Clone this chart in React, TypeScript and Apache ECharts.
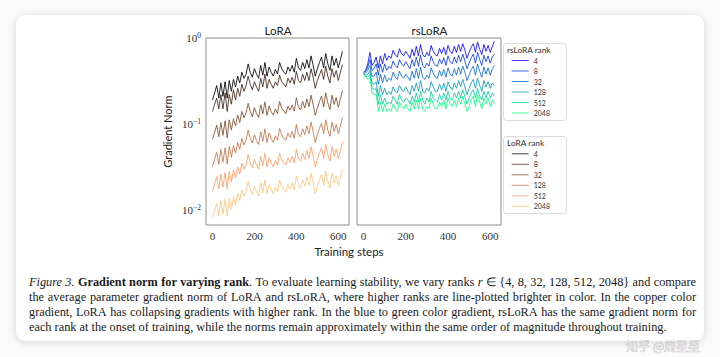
import React, { useEffect, useRef } from "react";
import * as echarts from "echarts";

// ---------------- data ----------------
const steps = [0, 10, 20, 30, 40, 50, 60, 70, 80, 90, 100, 110, 120, 130, 140, 150, 160, 170, 180, 190, 200, 210, 220, 230, 240, 250, 260, 270, 280, 290, 300, 310, 320, 330, 340, 350, 360, 370, 380, 390, 400, 410, 420, 430, 440, 450, 460, 470, 480, 490, 500, 510, 520, 530, 540, 550, 560, 570, 580, 590, 600, 610, 620];

const ranks = ["4", "8", "32", "128", "512", "2048"];

const loraR4 = [0.19, 0.23, 0.28, 0.20, 0.30, 0.21, 0.31, 0.20, 0.32, 0.24, 0.33, 0.27, 0.36, 0.30, 0.40, 0.34, 0.38, 0.50, 0.40, 0.35, 0.44, 0.38, 0.34, 0.48, 0.37, 0.52, 0.36, 0.46, 0.40, 0.36, 0.43, 0.38, 0.52, 0.44, 0.40, 0.38, 0.46, 0.41, 0.48, 0.40, 0.58, 0.45, 0.42, 0.52, 0.44, 0.56, 0.45, 0.62, 0.48, 0.36, 0.44, 0.52, 0.60, 0.45, 0.66, 0.50, 0.42, 0.62, 0.48, 0.58, 0.45, 0.56, 0.70];
const loraR8 = [0.14, 0.17, 0.20, 0.15, 0.22, 0.15, 0.23, 0.14, 0.22, 0.17, 0.25, 0.19, 0.26, 0.21, 0.29, 0.24, 0.28, 0.36, 0.29, 0.25, 0.31, 0.27, 0.24, 0.34, 0.27, 0.38, 0.26, 0.33, 0.29, 0.26, 0.31, 0.28, 0.37, 0.31, 0.29, 0.27, 0.34, 0.30, 0.35, 0.29, 0.41, 0.32, 0.30, 0.38, 0.32, 0.40, 0.32, 0.44, 0.35, 0.26, 0.32, 0.37, 0.43, 0.33, 0.47, 0.36, 0.30, 0.44, 0.35, 0.42, 0.32, 0.40, 0.49];
const loraR32 = [0.067, 0.080, 0.097, 0.071, 0.104, 0.074, 0.109, 0.069, 0.112, 0.085, 0.115, 0.095, 0.127, 0.104, 0.140, 0.118, 0.134, 0.174, 0.141, 0.121, 0.155, 0.132, 0.119, 0.167, 0.131, 0.181, 0.126, 0.162, 0.139, 0.127, 0.150, 0.132, 0.183, 0.153, 0.141, 0.132, 0.161, 0.145, 0.167, 0.141, 0.202, 0.158, 0.146, 0.183, 0.153, 0.196, 0.159, 0.216, 0.168, 0.127, 0.153, 0.182, 0.211, 0.157, 0.230, 0.176, 0.147, 0.216, 0.169, 0.203, 0.157, 0.196, 0.245];
const loraR128 = [0.032, 0.039, 0.047, 0.034, 0.051, 0.036, 0.053, 0.034, 0.055, 0.041, 0.056, 0.046, 0.061, 0.051, 0.068, 0.057, 0.065, 0.085, 0.068, 0.060, 0.075, 0.064, 0.058, 0.081, 0.063, 0.088, 0.061, 0.079, 0.068, 0.061, 0.073, 0.065, 0.089, 0.075, 0.068, 0.065, 0.078, 0.070, 0.082, 0.068, 0.099, 0.076, 0.071, 0.088, 0.075, 0.095, 0.077, 0.105, 0.082, 0.061, 0.075, 0.089, 0.102, 0.077, 0.112, 0.085, 0.072, 0.105, 0.082, 0.099, 0.077, 0.095, 0.119];
const loraR512 = [0.0167, 0.0202, 0.0245, 0.0177, 0.0263, 0.0186, 0.0273, 0.0176, 0.0282, 0.0212, 0.0290, 0.0238, 0.0318, 0.0264, 0.0352, 0.0299, 0.0334, 0.0440, 0.0352, 0.0308, 0.0387, 0.0334, 0.0300, 0.0421, 0.0326, 0.0458, 0.0317, 0.0405, 0.0352, 0.0318, 0.0378, 0.0334, 0.0457, 0.0387, 0.0352, 0.0335, 0.0405, 0.0361, 0.0422, 0.0352, 0.0510, 0.0396, 0.0370, 0.0458, 0.0387, 0.0493, 0.0396, 0.0546, 0.0422, 0.0317, 0.0387, 0.0458, 0.0528, 0.0396, 0.0581, 0.0440, 0.0370, 0.0546, 0.0422, 0.0510, 0.0396, 0.0493, 0.0616];
const loraR2048 = [0.0082, 0.0099, 0.0120, 0.0086, 0.0129, 0.0090, 0.0133, 0.0086, 0.0138, 0.0103, 0.0142, 0.0116, 0.0155, 0.0129, 0.0172, 0.0146, 0.0163, 0.0215, 0.0172, 0.0151, 0.0189, 0.0163, 0.0146, 0.0206, 0.0159, 0.0224, 0.0155, 0.0198, 0.0172, 0.0155, 0.0185, 0.0163, 0.0224, 0.0189, 0.0172, 0.0163, 0.0198, 0.0176, 0.0206, 0.0172, 0.0249, 0.0194, 0.0181, 0.0224, 0.0189, 0.0241, 0.0194, 0.0267, 0.0206, 0.0155, 0.0189, 0.0224, 0.0258, 0.0194, 0.0284, 0.0215, 0.0181, 0.0267, 0.0206, 0.0249, 0.0194, 0.0241, 0.0301];

const rsR4 = [0.40, 0.42, 0.50, 0.68, 0.48, 0.52, 0.60, 0.45, 0.62, 0.50, 0.66, 0.55, 0.62, 0.58, 0.72, 0.64, 0.60, 0.75, 0.66, 0.62, 0.70, 0.64, 0.58, 0.74, 0.62, 0.80, 0.62, 0.84, 0.64, 0.60, 0.68, 0.62, 0.82, 0.70, 0.64, 0.62, 0.76, 0.66, 0.78, 0.64, 0.82, 0.70, 0.66, 0.80, 0.68, 0.84, 0.70, 0.86, 0.72, 0.58, 0.68, 0.78, 0.86, 0.68, 0.90, 0.74, 0.64, 0.84, 0.70, 0.82, 0.68, 0.80, 0.92];
const rsR8 = [0.40, 0.41, 0.46, 0.56, 0.42, 0.44, 0.50, 0.37, 0.50, 0.40, 0.50, 0.42, 0.47, 0.44, 0.54, 0.48, 0.45, 0.56, 0.50, 0.47, 0.53, 0.48, 0.44, 0.56, 0.47, 0.60, 0.47, 0.63, 0.48, 0.45, 0.51, 0.47, 0.62, 0.53, 0.48, 0.47, 0.57, 0.50, 0.59, 0.48, 0.62, 0.53, 0.50, 0.60, 0.51, 0.63, 0.53, 0.65, 0.54, 0.44, 0.51, 0.59, 0.65, 0.51, 0.68, 0.56, 0.48, 0.63, 0.53, 0.62, 0.51, 0.60, 0.65];
const rsR32 = [0.39, 0.39, 0.42, 0.48, 0.36, 0.36, 0.40, 0.29, 0.38, 0.30, 0.37, 0.31, 0.34, 0.32, 0.40, 0.35, 0.33, 0.41, 0.36, 0.34, 0.38, 0.35, 0.32, 0.41, 0.34, 0.44, 0.34, 0.46, 0.35, 0.33, 0.37, 0.34, 0.45, 0.39, 0.35, 0.34, 0.42, 0.36, 0.43, 0.35, 0.45, 0.38, 0.36, 0.44, 0.37, 0.46, 0.38, 0.47, 0.40, 0.32, 0.37, 0.43, 0.47, 0.37, 0.50, 0.41, 0.35, 0.46, 0.38, 0.45, 0.37, 0.44, 0.48];
const rsR128 = [0.39, 0.37, 0.38, 0.42, 0.30, 0.29, 0.31, 0.21, 0.28, 0.22, 0.26, 0.22, 0.24, 0.22, 0.27, 0.24, 0.23, 0.28, 0.25, 0.24, 0.27, 0.24, 0.22, 0.28, 0.24, 0.30, 0.24, 0.32, 0.24, 0.23, 0.26, 0.24, 0.31, 0.27, 0.24, 0.24, 0.29, 0.25, 0.30, 0.24, 0.31, 0.27, 0.25, 0.30, 0.26, 0.32, 0.27, 0.33, 0.27, 0.22, 0.26, 0.30, 0.33, 0.26, 0.34, 0.28, 0.24, 0.32, 0.27, 0.31, 0.26, 0.30, 0.28];
const rsR512 = [0.38, 0.36, 0.35, 0.38, 0.26, 0.25, 0.26, 0.17, 0.22, 0.17, 0.20, 0.17, 0.18, 0.17, 0.21, 0.19, 0.17, 0.22, 0.19, 0.18, 0.20, 0.19, 0.17, 0.21, 0.18, 0.23, 0.18, 0.24, 0.19, 0.17, 0.20, 0.18, 0.24, 0.20, 0.19, 0.18, 0.22, 0.19, 0.23, 0.19, 0.24, 0.20, 0.19, 0.23, 0.20, 0.24, 0.20, 0.25, 0.21, 0.17, 0.20, 0.23, 0.25, 0.20, 0.26, 0.21, 0.19, 0.24, 0.20, 0.24, 0.20, 0.23, 0.21];
const rsR2048 = [0.38, 0.35, 0.33, 0.35, 0.23, 0.22, 0.22, 0.14, 0.18, 0.14, 0.17, 0.14, 0.15, 0.14, 0.17, 0.15, 0.14, 0.18, 0.16, 0.15, 0.17, 0.15, 0.14, 0.18, 0.15, 0.19, 0.15, 0.20, 0.15, 0.14, 0.16, 0.15, 0.20, 0.17, 0.15, 0.15, 0.18, 0.16, 0.19, 0.15, 0.20, 0.17, 0.16, 0.19, 0.16, 0.20, 0.17, 0.21, 0.17, 0.14, 0.16, 0.19, 0.21, 0.16, 0.22, 0.18, 0.15, 0.20, 0.17, 0.20, 0.16, 0.19, 0.17];

const loraSeries = [loraR4, loraR8, loraR32, loraR128, loraR512, loraR2048];
const rsSeries = [rsR4, rsR8, rsR32, rsR128, rsR512, rsR2048];

const copperColors = ["#000000", "#402819", "#7f5033", "#bf784c", "#ffa066", "#ffc77f"];
const winterColors = ["#0000ff", "#0033e6", "#0066cc", "#0099b3", "#00cc99", "#00ff80"];

const xTicks = [0, 200, 400, 600];

type Seg = [string, string];
const captionLines: Seg[][] = [
  [["i", "Figure 3."], ["n", " "], ["b", "Gradient norm for varying rank"], ["n", ". To evaluate learning stability, we vary ranks "], ["i", "r"], ["n", " ∈ {4, 8, 32, 128, 512, 2048} and compare"]],
  [["n", "the average parameter gradient norm of LoRA and rsLoRA, where higher ranks are line-plotted brighter in color. In the copper color"]],
  [["n", "gradient, LoRA has collapsing gradients with higher rank. In the blue to green color gradient, rsLoRA has the same gradient norm for"]],
  [["n", "each rank at the onset of training, while the norms remain approximately within the same order of magnitude throughout training."]],
];

const SERIF = '"Liberation Serif", "Times New Roman", serif';
const SANS = 'Lato, "Open Sans", sans-serif';

function buildCaption(): any[] {
  const size = 12.3;
  const left = 29;
  const right = 696;
  const tops = [282, 297, 312, 327];
  const fontFor = (st: string) =>
    `${st === "i" ? "italic" : "normal"} ${st === "b" ? "bold" : "normal"} ${size}px ${SERIF}`;
  const canvas = document.createElement("canvas");
  const ctx = canvas.getContext("2d")!;
  const measure = (st: string, t: string) => {
    ctx.font = fontFor(st);
    return ctx.measureText(t).width;
  };
  const out: any[] = [];
  captionLines.forEach((line, li) => {
    const words: Seg[][] = [];
    let cur: Seg[] = [];
    for (const [st, txt] of line) {
      const parts = txt.split(" ");
      parts.forEach((p, k) => {
        if (k > 0) {
          if (cur.length) words.push(cur);
          cur = [];
        }
        if (p) cur.push([st, p]);
      });
    }
    if (cur.length) words.push(cur);
    const widths = words.map((w) => w.reduce((s, [st, t]) => s + measure(st, t), 0));
    const total = widths.reduce((a, b) => a + b, 0);
    const justify = li < captionLines.length - 1;
    const gap = justify ? (right - left - total) / (words.length - 1) : measure("n", " ");
    let x = left;
    words.forEach((w, wi) => {
      let px = x;
      w.forEach(([st, t]) => {
        out.push({
          type: "text",
          x: px,
          y: tops[li],
          z: 5,
          style: {
            text: t,
            fill: "#1a1a1a",
            fontSize: size,
            fontFamily: SERIF,
            fontStyle: st === "i" ? "italic" : "normal",
            fontWeight: st === "b" ? "bold" : "normal",
            verticalAlign: "middle",
            align: "left",
          },
        });
        px += measure(st, t);
      });
      x += widths[wi] + gap;
    });
  });
  return out;
}

export default function App() {
  const ref = useRef<HTMLDivElement>(null);
  useEffect(() => {
    if (!ref.current) return;
    const chart = echarts.init(ref.current, undefined, { renderer: "svg" });

    const loraNames = ranks.map((r) => "LoRA " + r);
    const rsNames = ranks.map((r) => "rsLoRA " + r);

    const series: any[] = [];
    rsSeries.forEach((vals, k) => {
      series.push({
        name: rsNames[k],
        type: "line",
        xAxisIndex: 1,
        yAxisIndex: 1,
        symbol: "none",
        color: winterColors[k],
        lineStyle: { width: 1, color: winterColors[k], opacity: 0.8 },
        data: steps.map((s, i) => [s, vals[i]]),
      });
    });
    loraSeries.forEach((vals, k) => {
      series.push({
        name: loraNames[k],
        type: "line",
        xAxisIndex: 0,
        yAxisIndex: 0,
        symbol: "none",
        color: copperColors[k],
        lineStyle: { width: 1, color: copperColors[k], opacity: 0.85 },
        data: steps.map((s, i) => [s, vals[i]]),
      });
    });

    const yFormatter = (v: number) => {
      const l = Math.log10(v);
      const e = Math.round(l);
      if (Math.abs(l - e) > 1e-6) return "";
      return `{b|10}{s|${e === 0 ? "0" : "−" + -e}}`;
    };

    const legendCommon = {
      orient: "vertical",
      itemWidth: 17,
      itemHeight: 10,
      itemGap: 0.5,
      padding: 0,
      selectedMode: false,
      icon: "path://M0,0 L17,0 L17,1 L0,1 Z",
      itemStyle: { opacity: 0.75 },
      formatter: (n: string) => n.split(" ")[1],
      textStyle: { fontFamily: SANS, fontSize: 7, color: "#333", lineHeight: 10 },
    };

    const option: any = {
      animation: false,
      backgroundColor: "transparent",
      grid: [
        { left: 206, top: 38, width: 143, height: 187, show: true, borderColor: "#8c8c8c", borderWidth: 1, backgroundColor: "rgba(0,0,0,0)", outerBoundsMode: "none" },
        { left: 357, top: 38, width: 144, height: 187, show: true, borderColor: "#8c8c8c", borderWidth: 1, backgroundColor: "rgba(0,0,0,0)", outerBoundsMode: "none" },
      ],
      xAxis: [0, 1].map((g) => ({
        type: "value",
        gridIndex: g,
        min: -31,
        max: 651,
        axisLine: { show: false },
        axisTick: { show: false },
        splitLine: { show: false },
        axisLabel: { customValues: xTicks, fontFamily: SERIF, fontSize: 11, color: "#333", margin: 5 },
      })),
      yAxis: [0, 1].map((g) => ({
        type: "log",
        logBase: 10,
        gridIndex: g,
        min: 0.0067,
        max: 1,
        axisLine: { show: false },
        axisTick: { show: false },
        splitLine: { show: false },
        name: g === 0 ? "Gradient Norm" : "",
        nameLocation: "middle",
        nameGap: 33,
        nameRotate: 90,
        nameTextStyle: { fontFamily: SANS, fontSize: 11, color: "#222" },
        axisLabel:
          g === 0
            ? {
                formatter: yFormatter,
                margin: 5,
                rich: {
                  b: { fontFamily: SERIF, fontSize: 11, color: "#333", lineHeight: 14 },
                  s: { fontFamily: SERIF, fontSize: 7.5, color: "#333", lineHeight: 8, verticalAlign: "top" },
                },
              }
            : { show: false },
      })),
      legend: [
        { ...legendCommon, data: rsNames, left: 511.7, top: 55.5 },
        { ...legendCommon, data: loraNames, left: 511.7, top: 148.8 },
      ],
      graphic: [
        { type: "rect", z: 0, shape: { x: 503.5, y: 43.5, width: 63, height: 77, r: 3 }, style: { fill: "#fff", stroke: "#dcdcdc", lineWidth: 1 } },
        { type: "rect", z: 0, shape: { x: 503.5, y: 136.5, width: 63, height: 77, r: 3 }, style: { fill: "#fff", stroke: "#dcdcdc", lineWidth: 1 } },
        { type: "text", z: 5, x: 507, y: 49.5, style: { text: "rsLoRA rank", fontFamily: SANS, fontSize: 8.3, fill: "#333", verticalAlign: "middle" } },
        { type: "text", z: 5, x: 507, y: 143, style: { text: "LoRA rank", fontFamily: SANS, fontSize: 8.3, fill: "#333", verticalAlign: "middle" } },
        { type: "text", z: 5, x: 278, y: 30, style: { text: "LoRA", fontFamily: SANS, fontSize: 11.5, fill: "#222", align: "center", verticalAlign: "middle" } },
        { type: "text", z: 5, x: 429.5, y: 30, style: { text: "rsLoRA", fontFamily: SANS, fontSize: 11.5, fill: "#222", align: "center", verticalAlign: "middle" } },
        { type: "text", z: 5, x: 349, y: 251, style: { text: "Training steps", fontFamily: SANS, fontSize: 11.5, fill: "#222", align: "center", verticalAlign: "middle" } },
        ...buildCaption(),
        { type: "text", z: 20, x: 700, y: 345, style: { text: "知乎 @周星星", fontFamily: '"Noto Sans CJK SC", sans-serif', fontSize: 12, fill: "rgba(255,255,255,0.6)", stroke: "rgba(150,150,150,0.6)", lineWidth: 0.7, align: "right", verticalAlign: "middle" } },
      ],
      series,
    };
    chart.setOption(option);
    return () => chart.dispose();
  }, []);

  return (
    <div style={{ position: "absolute", left: 0, top: 0, width: 720, height: 357, background: "#fbfbfb", overflow: "hidden" }}>
      <div
        style={{
          position: "absolute",
          left: 16,
          top: 15,
          width: 688,
          height: 326,
          background: "#ffffff",
          borderRadius: 9,
          boxShadow: "0 1px 8px rgba(0,0,0,0.16)",
        }}
      />
      <div ref={ref} style={{ position: "absolute", left: 0, top: 0, width: 720, height: 357 }} />
    </div>
  );
}
